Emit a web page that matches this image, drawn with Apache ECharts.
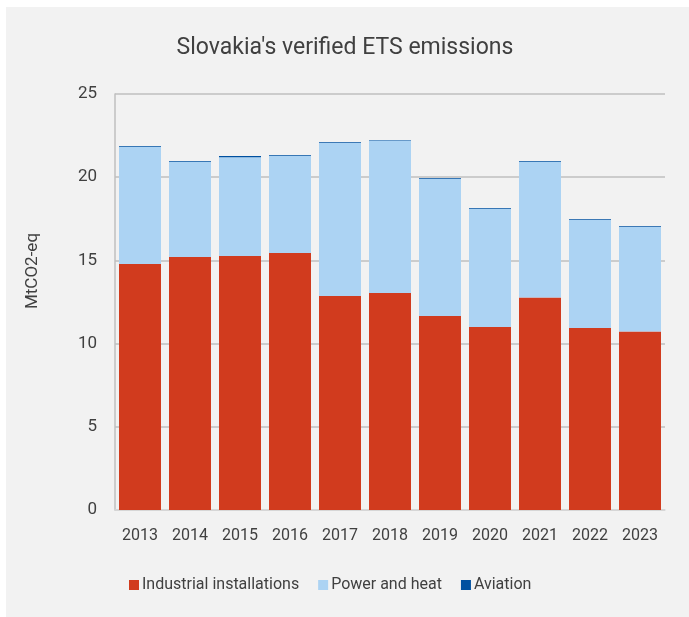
<!DOCTYPE html>
<html>
<head>
<meta charset="utf-8">
<script src="https://cdn.jsdelivr.net/npm/echarts@6/dist/echarts.min.js"></script>
<style>
  html, body { margin: 0; padding: 0; background: #fff; }
  #chart { width: 689px; height: 617px; }
</style>
</head>
<body>
<div id="chart"></div>
<script>
// data
const years = ["2013", "2014", "2015", "2016", "2017", "2018", "2019", "2020", "2021", "2022", "2023"];
const industrial = [14.78, 15.2, 15.26, 15.44, 12.86, 13.04, 11.66, 11.0, 12.77, 10.94, 10.72];
const powerHeat = [7.05, 5.73, 5.94, 5.85, 9.2, 9.16, 8.25, 7.11, 8.16, 6.49, 6.29];
const aviation = [0.04, 0.04, 0.07, 0.04, 0.04, 0.04, 0.04, 0.04, 0.04, 0.04, 0.04];

const font = "Roboto";
const textColor = "#404040";

const chart = echarts.init(document.getElementById("chart"));

function barSeries(name, data, color) {
  return {
    name: name,
    type: "bar",
    stack: "total",
    data: data,
    barWidth: 42,
    itemStyle: { color: color },
    emphasis: { disabled: true },
  };
}

chart.setOption({
  animation: false,
  textStyle: { fontFamily: font },
  graphic: [
    {
      type: "rect",
      shape: { x: 6, y: 7, width: 689, height: 617 },
      style: { fill: "#f2f2f2" },
      z: -10,
    },
  ],
  title: {
    text: "Slovakia's verified ETS emissions",
    left: 340,
    textAlign: "center",
    top: 32,
    textStyle: { fontFamily: font, fontSize: 23, fontWeight: "normal", color: textColor },
  },
  grid: { left: 115, right: 24, top: 94, bottom: 107, outerBoundsMode: "none", containLabel: false },
  legend: {
    bottom: 19,
    left: 124,
    itemWidth: 10,
    itemHeight: 10,
    itemGap: 19,
    icon: "rect",
    textStyle: { fontFamily: font, fontSize: 16, color: textColor, padding: [0, 0, 0, -2] },
    data: ["Industrial installations", "Power and heat", "Aviation"],
  },
  xAxis: {
    type: "category",
    data: years,
    axisLine: { lineStyle: { color: "#d9d9d9", width: 1.5 } },
    axisTick: { show: false },
    axisLabel: { fontFamily: font, fontSize: 16, color: textColor, margin: 18, interval: 0 },
  },
  yAxis: {
    type: "value",
    min: 0,
    max: 25,
    interval: 5,
    name: "MtCO2-eq",
    nameLocation: "middle",
    nameGap: 74,
    nameTextStyle: { fontFamily: font, fontSize: 17, color: textColor, padding: [0, 0, 0, 62] },
    axisLine: { show: true, lineStyle: { color: "#bfbfbf", width: 1.5 } },
    axisTick: { show: false },
    splitLine: { lineStyle: { color: "#bfbfbf", width: 1.5 } },
    axisLabel: { fontFamily: font, fontSize: 17, color: textColor, margin: 18 },
  },
  series: [
    barSeries("Industrial installations", industrial, "#d13b1e"),
    barSeries("Power and heat", powerHeat, "#acd3f3"),
    barSeries("Aviation", aviation, "#0050a0"),
  ],
});
</script>
</body>
</html>
